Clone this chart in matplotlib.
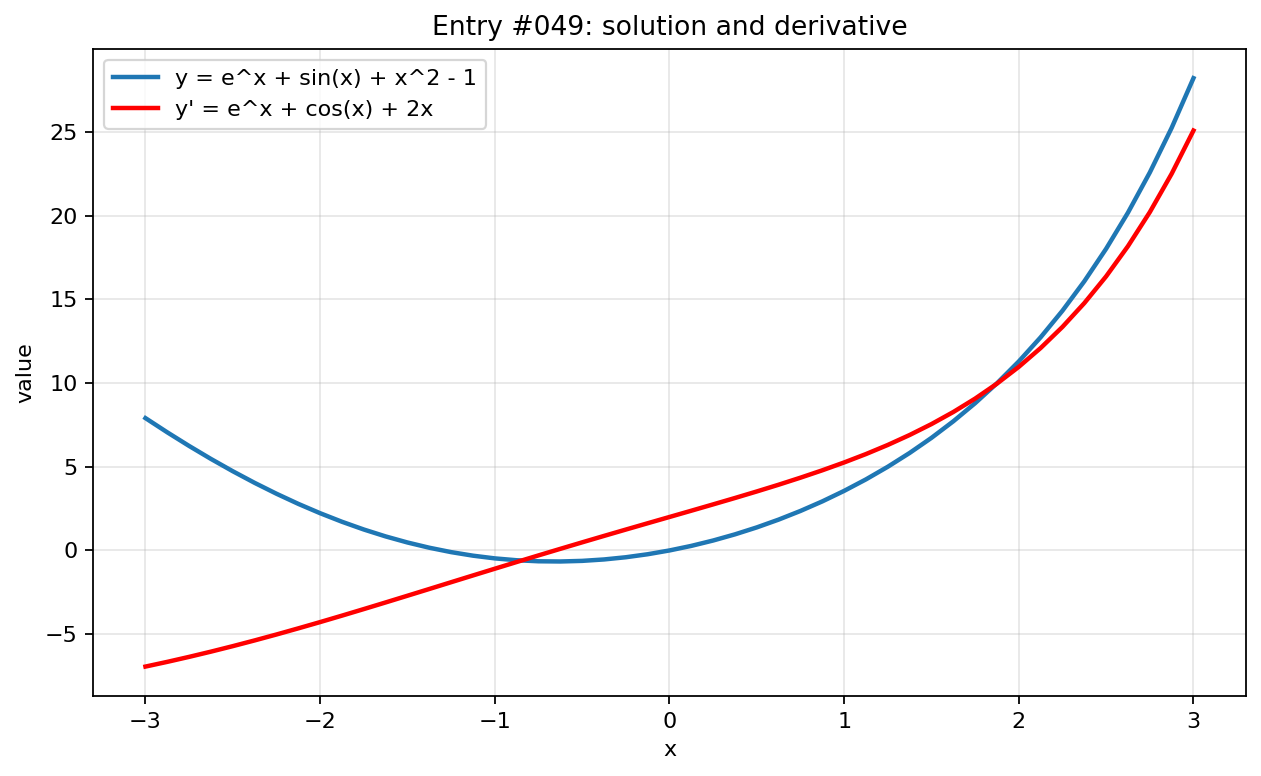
import matplotlib
matplotlib.use("Agg")
import matplotlib.pyplot as plt

# values at x steps of 0.125
x_vals = [-3.0, -2.875, -2.75, -2.625, -2.5, -2.375, -2.25, -2.125, -2.0, -1.875, -1.75, -1.625,
          -1.5, -1.375, -1.25, -1.125, -1.0, -0.875, -0.75, -0.625, -0.5, -0.375, -0.25, -0.125,
          0.0, 0.125, 0.25, 0.375, 0.5, 0.625, 0.75, 0.875, 1.0, 1.125, 1.25, 1.375,
          1.5, 1.625, 1.75, 1.875, 2.0, 2.125, 2.25, 2.375, 2.5, 2.625, 2.75, 2.875, 3.0]
y_vals = [7.909, 7.059, 6.245, 5.469, 4.734, 4.040, 3.390, 2.784, 2.226, 1.715, 1.252, 0.839,
          0.476, 0.163, -0.100, -0.312, -0.474, -0.585, -0.647, -0.659, -0.623, -0.538, -0.406, -0.227,
          0.0, 0.273, 0.594, 0.962, 1.378, 1.844, 2.361, 2.932, 3.560, 4.248, 5.002, 5.827,
          6.729, 7.718, 8.801, 9.991, 11.298, 12.739, 14.328, 16.085, 18.031, 20.189, 22.587, 25.254, 28.227]
dy_vals = [-6.940, -6.658, -6.360, -6.047, -5.719, -5.377, -5.023, -4.656, -4.281, -3.896, -3.504, -3.107,
           -2.706, -2.303, -1.898, -1.494, -1.092, -0.692, -0.296, 0.096, 0.484, 0.868, 1.248, 1.625,
           2.0, 2.375, 2.753, 3.135, 3.526, 3.929, 4.349, 4.790, 5.259, 5.761, 6.306, 6.900,
           7.552, 8.274, 9.076, 9.971, 10.973, 12.098, 13.360, 14.781, 16.381, 18.185, 20.218, 22.511, 25.096]

fig, ax = plt.subplots(figsize=(1261 / 160, 776 / 160), dpi=160)
ax.plot(x_vals, y_vals, color="tab:blue", lw=2, label="y = e^x + sin(x) + x^2 - 1")
ax.plot(x_vals, dy_vals, color="red", lw=2, label="y' = e^x + cos(x) + 2x")
ax.set_title("Entry #049: solution and derivative")
ax.set_xlabel("x")
ax.set_ylabel("value")
ax.grid(True, alpha=0.3)
ax.legend(loc="upper left")
fig.subplots_adjust(left=0.0738, right=0.988, top=0.9372, bottom=0.1031)
fig.savefig("out.png")
